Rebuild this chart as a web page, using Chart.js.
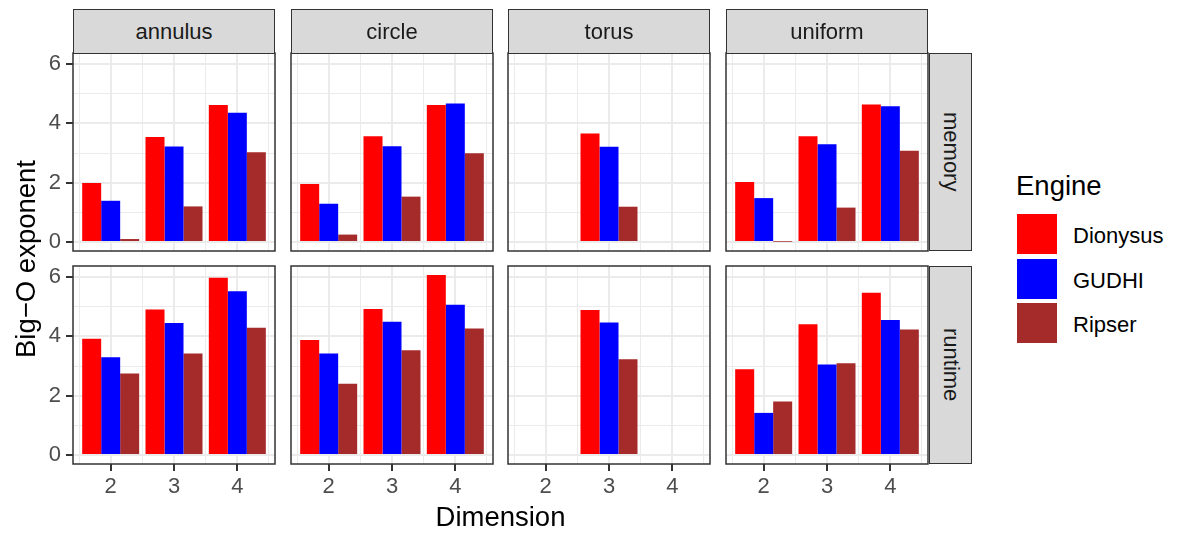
<!DOCTYPE html>
<html>
<head>
<meta charset="utf-8">
<script src="https://cdn.jsdelivr.net/npm/chart.js@4"></script>
<style>
body { margin: 0; background: #fff; font-family: "Liberation Sans", Arial, sans-serif; }
#wrap { position: relative; width: 1181px; height: 533px; overflow: hidden; }
#wrap canvas { position: absolute; }
.strip { position: absolute; background: #D9D9D9; border: 1px solid #333333; box-sizing: border-box;
         color: #1A1A1A; font-size: 22px; display: flex; align-items: center; justify-content: center; }
.strip.side span { writing-mode: vertical-rl; }
.key { position: absolute; width: 40px; height: 40px; }
.keylab { position: absolute; font-size: 22px; color: #000; line-height: 40px; }
</style>
</head>
<body>
<div id="wrap"></div>
<script>
// facets and series
const dims = [2, 3, 4];
const shapes = ['annulus', 'circle', 'torus', 'uniform'];
const metrics = ['memory', 'runtime'];
const engines = ['Dionysus', 'GUDHI', 'Ripser'];
const engineColors = ['#FF0000', '#0000FF', '#A52A2A'];
const yTicks = [0, 1, 2, 3, 4, 5, 6];
const xMinorTicks = [1.5, 2.5, 3.5, 4.5];

// each: [Dionysus, GUDHI, Ripser] x dimension 2, 3, 4
const annulusMemory = [[1.99, 3.54, 4.62], [1.39, 3.22, 4.36], [0.10, 1.20, 3.03]];
const circleMemory = [[1.96, 3.57, 4.62], [1.29, 3.23, 4.67], [0.25, 1.53, 2.99]];
const torusMemory = [[null, 3.66, null], [null, 3.21, null], [null, 1.19, null]];
const uniformMemory = [[2.02, 3.57, 4.64], [1.48, 3.30, 4.58], [0.01, 1.16, 3.08]];
const annulusRuntime = [[3.92, 4.91, 5.98], [3.30, 4.45, 5.52], [2.75, 3.42, 4.29]];
const circleRuntime = [[3.88, 4.92, 6.07], [3.42, 4.49, 5.07], [2.40, 3.53, 4.27]];
const torusRuntime = [[null, 4.89, null], [null, 4.47, null], [null, 3.23, null]];
const uniformRuntime = [[2.89, 4.41, 5.47], [1.42, 3.05, 4.55], [1.80, 3.09, 4.23]];

const panelData = [
    [annulusMemory, circleMemory, torusMemory, uniformMemory],
    [annulusRuntime, circleRuntime, torusRuntime, uniformRuntime]
];

// shared scales, ggplot style 5% expansion
let yTop = 0;
panelData.flat(3).forEach(v => { if (v !== null && v > yTop) yTop = v; });
const yMin = -0.05 * yTop;
const yMax = yTop * 1.05;
const xSpan = (dims[dims.length - 1] + 0.45) - (dims[0] - 0.45);
const xMin = dims[0] - 0.45 - 0.05 * xSpan;
const xMax = dims[dims.length - 1] + 0.45 + 0.05 * xSpan;

// layout
const colLeft = [73, 291, 508, 726];
const rowTop = [53, 266];
const panelW = 202, panelH = 198;
const ML = 40, MT = 10, MR = 10, MB = 50;
const wrap = document.getElementById('wrap');
const tickFont = { family: '"Liberation Sans", Arial, sans-serif', size: 22 };

const panelBorder = {
    id: 'panelBorder',
    afterDraw(chart) {
        const a = chart.chartArea, ctx = chart.ctx;
        ctx.save();
        ctx.strokeStyle = '#333333';
        ctx.lineWidth = 1.5;
        ctx.strokeRect(a.left, a.top, a.right - a.left, a.bottom - a.top);
        ctx.restore();
    }
};

function makePanel(r, c) {
    const isLeft = c === 0, isBottom = r === panelData.length - 1;
    const vals = panelData[r][c];
    const cv = document.createElement('canvas');
    cv.width = ML + panelW + MR;
    cv.height = MT + panelH + MB;
    cv.style.left = (colLeft[c] - ML) + 'px';
    cv.style.top = (rowTop[r] - MT) + 'px';
    wrap.appendChild(cv);

    new Chart(cv.getContext('2d'), {
        type: 'bar',
        data: {
            datasets: engines.map((e, i) => ({
                label: e,
                data: dims.map((d, j) => ({ x: d, y: vals[i][j] })),
                backgroundColor: engineColors[i],
                borderWidth: 0,
                categoryPercentage: 0.9,
                barPercentage: 1,
                xAxisID: 'x',
                yAxisID: 'y'
            }))
        },
        options: {
            responsive: false,
            animation: false,
            events: [],
            layout: { padding: { top: MT, right: MR, left: 0, bottom: 0 } },
            plugins: { legend: { display: false }, tooltip: { enabled: false } },
            scales: {
                x: {
                    type: 'linear', position: 'bottom', min: xMin, max: xMax, offset: false,
                    afterBuildTicks: s => { s.ticks = dims.map(v => ({ value: v })); },
                    afterFit: s => { s.height = MB; s.paddingLeft = 0; s.paddingRight = 0; },
                    border: { display: false },
                    grid: { offset: false, color: '#EBEBEB', lineWidth: 2, drawTicks: isBottom, tickLength: 7,
                            tickColor: '#333333', tickWidth: 2 },
                    ticks: { display: isBottom, font: tickFont, color: '#4D4D4D', padding: 3,
                             maxRotation: 0, callback: v => String(v) }
                },
                xm: {
                    type: 'linear', position: 'bottom', min: xMin, max: xMax, offset: false,
                    afterBuildTicks: s => { s.ticks = xMinorTicks.map(v => ({ value: v })); },
                    afterFit: s => { s.height = 0; s.paddingLeft = 0; s.paddingRight = 0; },
                    border: { display: false },
                    grid: { offset: false, color: '#EBEBEB', lineWidth: 1, drawTicks: false },
                    ticks: { display: false }
                },
                y: {
                    type: 'linear', min: yMin, max: yMax,
                    afterBuildTicks: s => { s.ticks = yTicks.map(v => ({ value: v })); },
                    afterFit: s => { s.width = ML; s.paddingTop = 0; s.paddingBottom = 0; },
                    border: { display: false },
                    grid: {
                        color: '#EBEBEB',
                        lineWidth: ctx => (ctx.tick && ctx.tick.value % 2 === 0) ? 2 : 1,
                        drawTicks: isLeft, tickLength: 7, tickWidth: 2,
                        tickColor: ctx => (ctx.tick && ctx.tick.value % 2 === 0) ? '#333333' : 'rgba(0,0,0,0)'
                    },
                    ticks: { display: isLeft, font: tickFont, color: '#4D4D4D', padding: 5,
                             callback: v => (v % 2 === 0 ? String(v) : '') }
                }
            }
        },
        plugins: [panelBorder]
    });
}

metrics.forEach((m, r) => shapes.forEach((s, c) => makePanel(r, c)));

// strips
shapes.forEach((s, c) => {
    const d = document.createElement('div');
    d.className = 'strip';
    d.style.cssText = `left:${colLeft[c]}px;top:9px;width:${panelW}px;height:45px;`;
    d.innerHTML = `<span>${s}</span>`;
    wrap.appendChild(d);
});
metrics.forEach((m, r) => {
    const d = document.createElement('div');
    d.className = 'strip side';
    d.style.cssText = `left:929px;top:${rowTop[r]}px;width:43px;height:${panelH}px;`;
    d.innerHTML = `<span>${m}</span>`;
    wrap.appendChild(d);
});

// axis titles
const xt = document.createElement('div');
xt.textContent = 'Dimension';
xt.style.cssText = `position:absolute;left:${colLeft[0]}px;width:${colLeft[3] + panelW - colLeft[0]}px;top:501px;text-align:center;font-size:27.5px;color:#000;`;
wrap.appendChild(xt);
const yt = document.createElement('div');
yt.textContent = 'Big\u2212O exponent';
yt.style.cssText = `position:absolute;left:${26 - 120}px;top:${259 - 16}px;width:240px;height:32px;line-height:32px;text-align:center;font-size:27.5px;color:#000;transform:rotate(-90deg);`;
wrap.appendChild(yt);

// legend
const lt = document.createElement('div');
lt.textContent = 'Engine';
lt.style.cssText = 'position:absolute;left:1016px;top:170px;font-size:27.5px;color:#000;';
wrap.appendChild(lt);
engines.forEach((e, i) => {
    const k = document.createElement('div');
    k.className = 'key';
    k.style.cssText = `left:1017px;top:${214 + i * 44.5}px;background:${engineColors[i]};`;
    wrap.appendChild(k);
    const l = document.createElement('div');
    l.className = 'keylab';
    l.textContent = e;
    l.style.cssText = `left:1073px;top:${216 + i * 44.5}px;`;
    wrap.appendChild(l);
});
</script>
</body>
</html>
